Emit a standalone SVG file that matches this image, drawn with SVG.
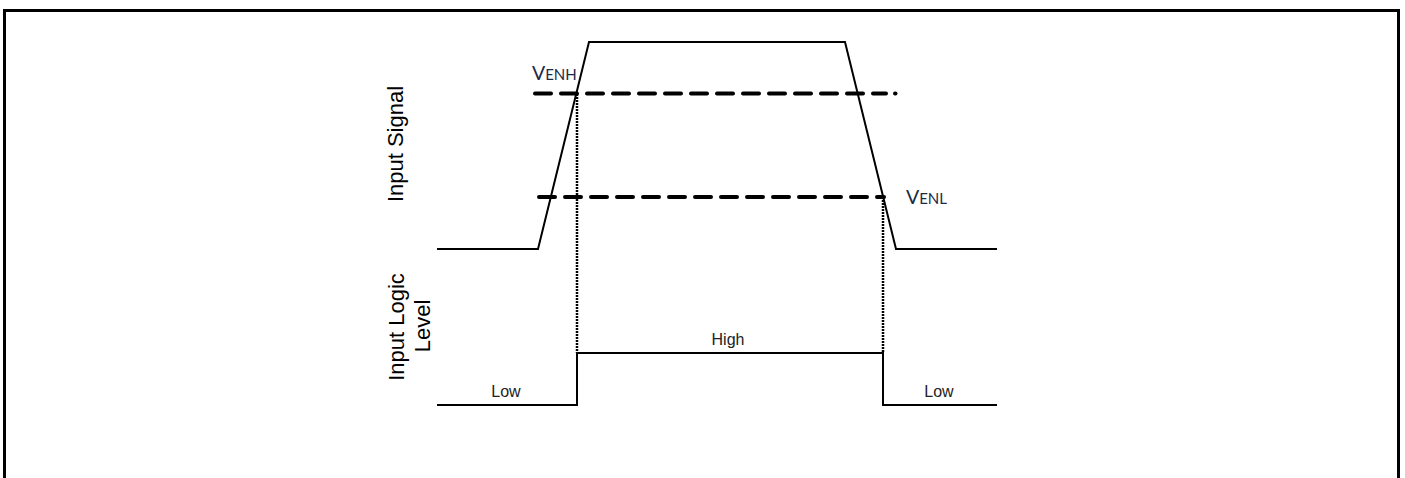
<svg xmlns="http://www.w3.org/2000/svg" width="1405" height="478" viewBox="0 0 1405 478">
  <style>
    .wave { fill: none; stroke: #000; stroke-width: 2; stroke-linejoin: miter; }
    .thr { fill: none; stroke: #000; stroke-width: 4; stroke-dasharray: 16 10; stroke-linecap: round; }
    .dot { fill: none; stroke: #000; stroke-width: 2.5; stroke-dasharray: 2 1; }
    .axis { font-family: "Liberation Sans", Arial, sans-serif; font-size: 22px; fill: #000; text-anchor: middle; }
    .lvl { font-family: "Liberation Sans", Arial, sans-serif; font-size: 16px; fill: #222; text-anchor: middle; }
    .vlab { font-family: Lato, "Open Sans", sans-serif; fill: #1a2a48; }
  </style>
  <rect x="4.5" y="10.5" width="1394" height="480" fill="#fff" stroke="#000" stroke-width="3"/>

  <g id="connectors">
    <line class="dot" x1="577" y1="94" x2="577" y2="353"/>
    <line class="dot" x1="883" y1="197" x2="883" y2="353"/>
  </g>

  <g id="input-signal">
    <polyline class="wave" points="437,249 538,249 589,42 845,42 896,249 997,249"/>
  </g>

  <g id="venh-threshold">
    <line class="thr" x1="535" y1="93.5" x2="886" y2="93.5"/>
    <line class="thr" x1="895" y1="93.5" x2="895.5" y2="93.5"/>
    <text class="vlab" x="532" y="80"><tspan font-size="19.5">V</tspan><tspan font-size="15">ENH</tspan></text>
  </g>

  <g id="venl-threshold">
    <line class="thr" x1="539" y1="197" x2="884" y2="197"/>
    <text class="vlab" x="906" y="204"><tspan font-size="19.5">V</tspan><tspan font-size="15">ENL</tspan></text>
  </g>

  <g id="logic-level">
    <polyline class="wave" points="437,405 577,405 577,353 883,353 883,405 997,405"/>
    <text class="lvl" x="506" y="397">Low</text>
    <text class="lvl" x="728" y="345">High</text>
    <text class="lvl" x="939" y="397">Low</text>
  </g>

  <g id="axis-labels">
    <text class="axis" transform="translate(403,144) rotate(-90)">Input Signal</text>
    <text class="axis" transform="translate(404,327) rotate(-90)">Input Logic</text>
    <text class="axis" transform="translate(430,326) rotate(-90)">Level</text>
  </g>
</svg>
